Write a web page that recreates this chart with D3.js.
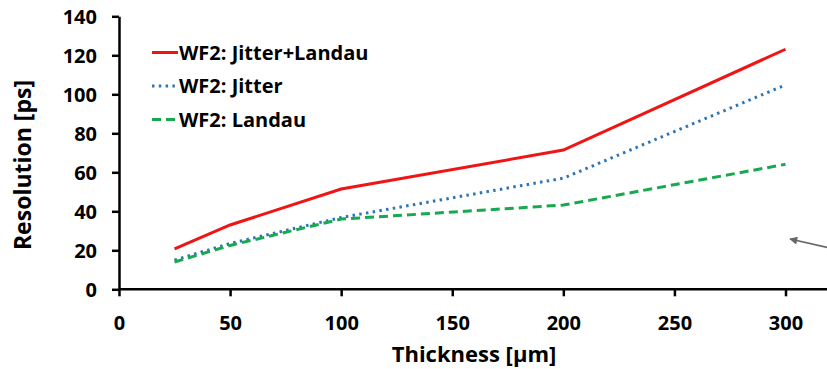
<!DOCTYPE html>
<html>
<head>
<meta charset="utf-8">
<script src="https://cdn.jsdelivr.net/npm/d3@7"></script>
<style>
  body { margin: 0; background: #fff; }
  text { font-family: "Open Sans", Lato, sans-serif; font-weight: bold; }
</style>
</head>
<body>
<div id="chart"></div>
<script>
// thickness in um
const thickness = [25, 50, 100, 200, 300];
const jitterLandau = [20.7, 33, 51.4, 71.4, 123.1];
const jitter = [15, 23.5, 36.8, 57, 104.8];
const landau = [14, 22.5, 36, 43.2, 64.1];
const xTicks = [0, 50, 100, 150, 200, 250, 300];
const yTicks = [0, 20, 40, 60, 80, 100, 120, 140];

const series = [
  {name: "WF2: Jitter+Landau", values: jitterLandau, color: "#f01414", dash: null},
  {name: "WF2: Jitter", values: jitter, color: "#2e75b6", dash: "2.5,4.3"},
  {name: "WF2: Landau", values: landau, color: "#16a94f", dash: "9,5"}
];

const W = 827, H = 369;
const svg = d3.select("#chart")
  .append("svg")
  .attr("width", W)
  .attr("height", H);

const x = d3.scaleLinear().domain([0, 300]).range([119, 785.5]);
const y = d3.scaleLinear().domain([0, 140]).range([289.3, 16.3]);

// x axis, line runs on past 300 to the edge
const xAxis = svg.append("g")
  .attr("transform", "translate(0," + y(0) + ")")
  .call(d3.axisBottom(x).tickValues(xTicks).tickSize(7).tickPadding(20).tickSizeOuter(0));
xAxis.select(".domain").attr("d", "M" + x(0) + ",0H" + W);

const yAxis = svg.append("g")
  .attr("transform", "translate(" + x(0) + ",0)")
  .call(d3.axisLeft(y).tickValues(yTicks).tickSize(7).tickPadding(15).tickSizeOuter(0));

svg.selectAll(".tick text")
  .style("font-size", "20px")
  .attr("fill", "#000");
svg.selectAll(".domain, .tick line")
  .attr("stroke", "#000")
  .attr("stroke-width", 2.5);
yAxis.selectAll(".tick text").attr("dy", "0.36em");

// lines
const line = d3.line()
  .x((d, i) => x(thickness[i]))
  .y(d => y(d));

series.forEach(s => {
  svg.append("path")
    .datum(s.values)
    .attr("d", line)
    .attr("fill", "none")
    .attr("stroke", s.color)
    .attr("stroke-width", 3)
    .attr("stroke-dasharray", s.dash);
});

// legend
const legend = svg.append("g");
series.forEach((s, i) => {
  const ly = 52.5 + i * 33.5;
  legend.append("line")
    .attr("x1", 152).attr("x2", 178)
    .attr("y1", ly).attr("y2", ly)
    .attr("stroke", s.color)
    .attr("stroke-width", 3)
    .attr("stroke-dasharray", s.dash);
  legend.append("text")
    .attr("x", 179)
    .attr("y", ly)
    .attr("dy", "0.36em")
    .style("font-size", "20px")
    .text(s.name);
});

// axis titles
svg.append("text")
  .attr("x", 474)
  .attr("y", 362)
  .attr("text-anchor", "middle")
  .style("font-size", "22px")
  .text("Thickness [μm]");

svg.append("text")
  .attr("transform", "translate(31,165) rotate(-90)")
  .attr("text-anchor", "middle")
  .style("font-size", "23px")
  .text("Resolution [ps]");

// arrow coming in from the right edge
svg.append("defs").append("marker")
  .attr("id", "head")
  .attr("viewBox", "0 0 10 10")
  .attr("refX", 9).attr("refY", 5)
  .attr("markerWidth", 6).attr("markerHeight", 5)
  .attr("orient", "auto")
  .append("path")
  .attr("d", "M0,0L10,5L0,10z")
  .attr("fill", "#666");

svg.append("line")
  .attr("x1", 830).attr("y1", 248)
  .attr("x2", 790).attr("y2", 239)
  .attr("stroke", "#666")
  .attr("stroke-width", 1.6)
  .attr("marker-end", "url(#head)");
</script>
</body>
</html>
